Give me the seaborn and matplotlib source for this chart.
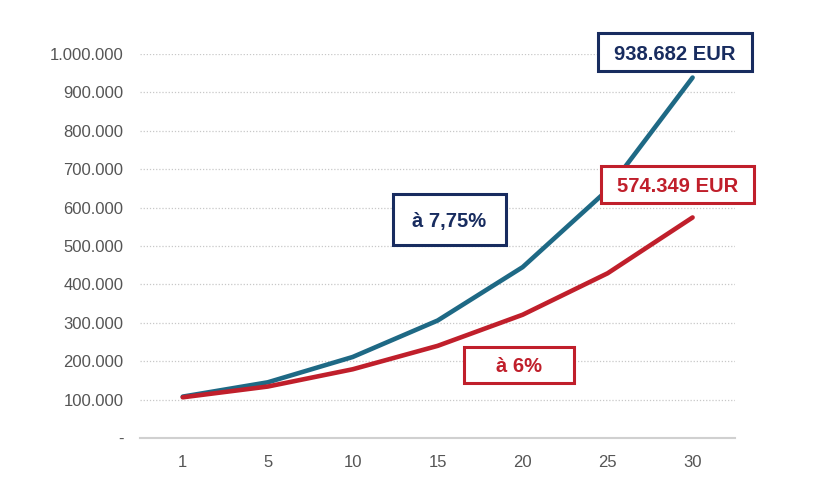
import pandas as pd
import numpy as np
import seaborn as sns
import matplotlib.pyplot as plt
from matplotlib.patches import Rectangle
from matplotlib.ticker import FuncFormatter

## Data
years = ["1", "5", "10", "15", "20", "25", "30"]
value_775 = [107750, 145000, 211000, 306000, 445000, 646000, 938682]
value_6 = [106000, 134000, 179000, 240000, 321000, 429000, 574349]

teal = "#1e6985"
red = "#c01f2b"
navy = "#182c5f"

df = pd.DataFrame({
    "year": years * 2,
    "value": value_775 + value_6,
    "rate": ["7,75%"] * len(years) + ["6%"] * len(years),
})

sns.set_style("white")
plt.rcParams['font.family'] = ['Liberation Sans', 'DejaVu Sans']

W, H = 825, 487
fig = plt.figure(figsize=(W / 100, H / 100), dpi=100)
ax = fig.add_axes([0.170, 0.1006, 0.721, 0.7885])

sns.lineplot(data=df, x="year", y="value", hue="rate", sort=False,
             palette={"7,75%": teal, "6%": red}, linewidth=3.3,
             legend=False, ax=ax)

ax.set_xlim(-0.5, len(years) - 0.5)
ax.set_ylim(0, 1000000)
ax.set_yticks(np.arange(0, 1000001, 100000))
ax.yaxis.set_major_formatter(FuncFormatter(
    lambda v, p: "-" if v == 0 else "{:,.0f}".format(v).replace(",", ".")))
ax.set_xlabel("")
ax.set_ylabel("")

ax.grid(axis="y", linestyle=(0, (1, 1.5)), color="#c8c8c8", linewidth=0.9)
ax.grid(axis="x", visible=False)
for s in ["top", "right", "left"]:
    ax.spines[s].set_visible(False)
ax.spines["bottom"].set_color("#d0d0d0")
ax.spines["bottom"].set_linewidth(1.5)
ax.tick_params(axis="y", length=0, pad=12, labelsize=12, labelcolor="#555555")
ax.tick_params(axis="x", length=0, pad=12, labelsize=12, labelcolor="#555555")

## Annotation boxes (pixel positions from the top-left corner)
def label(x0, y0, x1, y1, txt, col):
    fig.add_artist(Rectangle((x0 / W, 1 - y1 / H), (x1 - x0) / W, (y1 - y0) / H,
                             transform=fig.transFigure, facecolor="white",
                             edgecolor=col, linewidth=2.2, zorder=5))
    fig.text((x0 + x1) / 2 / W, 1 - (y0 + y1) / 2 / H, txt,
             ha="center", va="center_baseline", fontsize=14.5,
             fontweight="bold", color=col, zorder=6)

label(598, 33, 752, 71, "938.682 EUR", navy)
label(601, 166, 754, 203, "574.349 EUR", red)
label(393, 194, 506, 245, "à 7,75%", navy)
label(464, 347, 574, 383, "à 6%", red)

plt.savefig("out.png", dpi=100)
